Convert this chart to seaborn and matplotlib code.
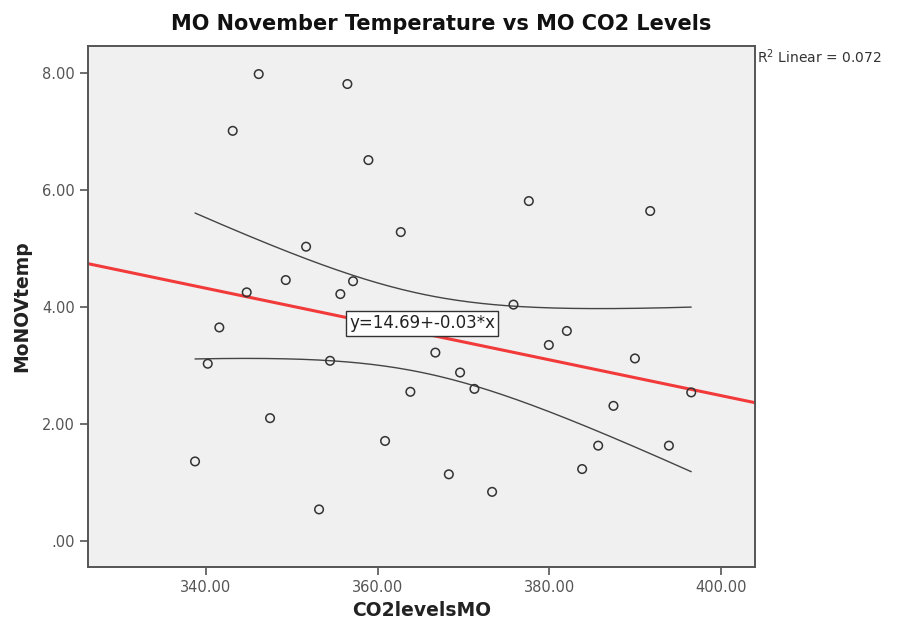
import matplotlib
matplotlib.use("Agg")
import matplotlib.pyplot as plt
import seaborn as sns
import numpy as np
import pandas as pd

# ---- data
co2_levels = [346.14, 356.47, 343.11, 358.92, 351.66, 349.29, 357.13, 344.74,
              355.65, 341.55, 340.20, 354.45, 347.46, 382.04, 379.94, 366.72,
              389.97, 369.60, 396.53, 363.81, 371.27, 387.47, 360.86, 385.69,
              393.93, 368.29, 383.82, 373.33, 362.69, 377.61, 391.75, 375.82,
              338.72, 353.17]
nov_temp = [7.98, 7.81, 7.01, 6.51, 5.03, 4.46, 4.44, 4.25,
            4.22, 3.65, 3.03, 3.08, 2.10, 3.59, 3.35, 3.22,
            3.12, 2.88, 2.54, 2.55, 2.60, 2.31, 1.71, 1.63,
            1.63, 1.14, 1.23, 0.84, 5.28, 5.81, 5.64, 4.04,
            1.36, 0.54]

x_ticks = [340, 360, 380, 400]
y_ticks = [0, 2, 4, 6, 8]
x_tick_labels = ["340.00", "360.00", "380.00", "400.00"]
y_tick_labels = [".00", "2.00", "4.00", "6.00", "8.00"]

title = "MO November Temperature vs MO CO2 Levels"
eq_label = "y=14.69+-0.03*x"
r2_label = "R$^2$ Linear = 0.072"

df = pd.DataFrame({"CO2levelsMO": co2_levels, "MoNOVtemp": nov_temp})

# ---- linear fit and 95% CI of the mean
x = df["CO2levelsMO"].to_numpy()
y = df["MoNOVtemp"].to_numpy()
n = len(x)
slope, intercept = np.polyfit(x, y, 1)
resid = y - (intercept + slope * x)
s = np.sqrt((resid ** 2).sum() / (n - 2))
t_crit = 2.037  # t(0.975, 32)

xlim = (326.25, 403.96)
ylim = (-0.444, 8.46)

fit_x = np.array(xlim)
fit_df = pd.DataFrame({"x": fit_x, "y": intercept + slope * fit_x})

grid = np.linspace(x.min(), x.max(), 200)
se = s * np.sqrt(1 / n + (grid - x.mean()) ** 2 / ((x - x.mean()) ** 2).sum())
ci_df = pd.DataFrame({
    "x": grid,
    "lower": intercept + slope * grid - t_crit * se,
    "upper": intercept + slope * grid + t_crit * se,
})

# ---- plot
sns.set_style("white")
plt.rcParams["font.family"] = ["DejaVu Sans"]

fig = plt.figure(figsize=(8.98, 6.21), dpi=100)
ax = fig.add_axes([88 / 898, 1 - 567 / 621, 667 / 898, 521 / 621])
ax.set_facecolor("#f0f0f0")

sns.lineplot(data=ci_df, x="x", y="upper", ax=ax, color="#444444", lw=1)
sns.lineplot(data=ci_df, x="x", y="lower", ax=ax, color="#444444", lw=1)
sns.lineplot(data=fit_df, x="x", y="y", ax=ax, color="#f23a3a", lw=2.2)

sns.scatterplot(data=df, x="CO2levelsMO", y="MoNOVtemp", ax=ax,
                marker="o", s=38, facecolor="none", edgecolor="#333333",
                linewidth=1.1, zorder=5)

ax.set_xlim(xlim)
ax.set_ylim(ylim)
ax.set_xticks(x_ticks)
ax.set_xticklabels(x_tick_labels)
ax.set_yticks(y_ticks)
ax.set_yticklabels(y_tick_labels)
ax.tick_params(axis="both", direction="out", length=6, width=1.2,
               color="#555555", labelcolor="#555555", labelsize=10.5,
               bottom=True, left=True, top=False, right=False)

for side, sp in ax.spines.items():
    sp.set_visible(True)
    sp.set_color("#555555")
    sp.set_linewidth(1.4)

ax.set_xlabel("CO2levelsMO", fontsize=13.5, fontweight="bold", color="#222222",
              labelpad=4)
ax.set_ylabel("MoNOVtemp", fontsize=13.5, fontweight="bold", color="#222222",
              labelpad=8)

ax.text(0.5007, 0.468, eq_label, transform=ax.transAxes, ha="center", va="center",
        fontsize=12, color="#222222", zorder=6,
        bbox=dict(boxstyle="square,pad=0.2", facecolor="white",
                  edgecolor="#333333", linewidth=1))

fig.text(441 / 898, 1 - 24 / 621, title, ha="center", va="center",
         fontsize=15, fontweight="bold", color="#111111")
fig.text(757 / 898, 1 - 57 / 621, r2_label, ha="left", va="center",
         fontsize=10, color="#333333")

fig.savefig("out.png", dpi=100)
